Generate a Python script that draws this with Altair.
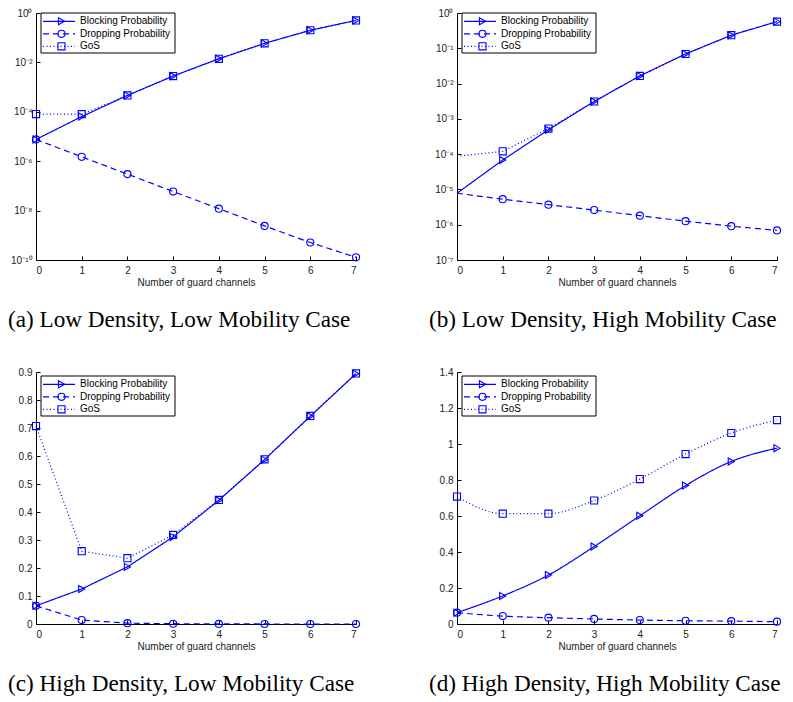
import altair as alt
import pandas as pd

guard = [0, 1, 2, 3, 4, 5, 6, 7]
series = ["Blocking Probability", "Dropping Probability", "GoS"]

# (a) Low Density, Low Mobility
a_block = [7.6e-6, 6.4e-5, 4.6e-4, 2.8e-3, 1.4e-2, 5.9e-2, 0.2, 0.5]
a_drop = [7.6e-6, 1.5e-6, 3.0e-7, 5.9e-8, 1.2e-8, 2.4e-9, 5.1e-10, 1.28e-10]
a_gos = [8.1e-5, 8.0e-5, 4.6e-4, 2.8e-3, 1.4e-2, 5.9e-2, 0.2, 0.5]
# (b) Low Density, High Mobility
b_block = [7.8e-6, 6.8e-5, 4.9e-4, 3.1e-3, 1.65e-2, 6.9e-2, 0.235, 0.57]
b_drop = [7.8e-6, 5.3e-6, 3.7e-6, 2.6e-6, 1.8e-6, 1.26e-6, 9.1e-7, 6.9e-7]
b_gos = [8.7e-5, 1.2e-4, 5.3e-4, 3.1e-3, 1.65e-2, 6.9e-2, 0.235, 0.57]
# (c) High Density, Low Mobility
c_block = [0.065, 0.125, 0.204, 0.311, 0.442, 0.587, 0.742, 0.894]
c_drop = [0.065, 0.014, 0.003, 0.001, 0.0003, 0.0001, 0.00003, 0.00001]
c_gos = [0.707, 0.260, 0.235, 0.318, 0.443, 0.588, 0.743, 0.895]
# (d) High Density, High Mobility
d_block = [0.063, 0.156, 0.272, 0.430, 0.601, 0.769, 0.903, 0.977]
d_drop = [0.063, 0.044, 0.035, 0.028, 0.022, 0.018, 0.016, 0.013]
d_gos = [0.708, 0.613, 0.613, 0.686, 0.805, 0.944, 1.061, 1.133]

a_ticks = [1e-10, 1e-8, 1e-6, 1e-4, 1e-2, 1]
b_ticks = [1e-7, 1e-6, 1e-5, 1e-4, 1e-3, 1e-2, 1e-1, 1]
c_ticks = [0, 0.1, 0.2, 0.3, 0.4, 0.5, 0.6, 0.7, 0.8, 0.9]
d_ticks = [0, 0.2, 0.4, 0.6, 0.8, 1.0, 1.2, 1.4]

captions = [
    "(a) Low Density, Low Mobility Case",
    "(b) Low Density, High Mobility Case",
    "(c) High Density, Low Mobility Case",
    "(d) High Density, High Mobility Case",
]

BLUE = "#0000ff"
FONT = "Liberation Sans"
SERIF = "Liberation Serif"
dash_range = [[1, 0], [6, 4], [1, 2.5]]
shape_range = ["triangle-right", "circle", "square"]

sup = "toString(round(log(datum.value)/LN10))"
for a, b in [("-", "⁻"), ("0", "⁰"), ("1", "¹"), ("2", "²"), ("3", "³"), ("4", "⁴"),
             ("5", "⁵"), ("6", "⁶"), ("7", "⁷"), ("8", "⁸"), ("9", "⁹")]:
    sup = f"replace({sup}, '{a}', '{b}')"
SUP_EXPR = "'10' + " + sup


def make_df(block, drop, gos):
    rows = []
    for name, vals in zip(series, [block, drop, gos]):
        for g, v in zip(guard, vals):
            rows.append({"guard": g, "series": name, "value": v})
    return pd.DataFrame(rows)


def panel(block, drop, gos, log, ydomain, yvalues, height, caption, interp,
          marker_min, legend_top):
    df = make_df(block, drop, gos)
    xs = alt.Scale(domain=[0, 7], nice=False, zero=False)
    if log:
        ys = alt.Scale(type="log", domain=ydomain, nice=False)
        lab = dict(labelExpr=SUP_EXPR)
    else:
        ys = alt.Scale(domain=ydomain, nice=False, zero=True)
        lab = dict(format="~g")
    x_main = alt.X("guard:Q", scale=xs, axis=alt.Axis(
        values=guard, format="d", title="Number of guard channels", ticks=False,
        grid=False, labelPadding=5, titlePadding=2, orient="bottom"))
    y_main = alt.Y("value:Q", scale=ys, axis=alt.Axis(
        values=yvalues, title=None, ticks=False, grid=False, labelPadding=4,
        minExtent=28, maxExtent=28, orient="left", **lab))
    x_tick = alt.X("guard:Q", scale=xs, axis=alt.Axis(
        values=guard, labels=False, domain=False, grid=False, ticks=True,
        tickSize=4, offset=-4, title=None, orient="bottom", minExtent=0, maxExtent=0))
    y_tick = alt.Y("value:Q", scale=ys, axis=alt.Axis(
        values=yvalues, labels=False, domain=False, grid=False, ticks=True,
        tickSize=4, offset=-4, title=None, orient="left", minExtent=0, maxExtent=0))

    lines = alt.Chart(df).mark_line(color=BLUE, strokeWidth=1.2, interpolate=interp).encode(
        x=x_tick, y=y_tick,
        strokeDash=alt.StrokeDash("series:N", scale=alt.Scale(domain=series, range=dash_range), legend=None),
        detail="series:N",
    )
    points = alt.Chart(df).transform_filter(alt.datum.guard >= marker_min).mark_point(
        color=BLUE, filled=False, strokeWidth=1.1, size=50, opacity=1
    ).encode(
        x=x_main, y=y_main,
        shape=alt.Shape("series:N", scale=alt.Scale(domain=series, range=shape_range), legend=None),
    )

    one = pd.DataFrame({"k": [0]})
    layers = [lines, points]
    layers.append(alt.Chart(one).mark_rect(fill="white", stroke="black", strokeWidth=1).encode(
        x=alt.value(5), x2=alt.value(139), y=alt.value(legend_top), y2=alt.value(legend_top + 40)))
    for i, name in enumerate(series):
        yi = legend_top + 8.3 + 12.5 * i
        layers.append(alt.Chart(one).mark_rule(color=BLUE, strokeWidth=1.2, strokeDash=dash_range[i]).encode(
            x=alt.value(7), x2=alt.value(39), y=alt.value(yi)))
        layers.append(alt.Chart(one).mark_point(shape=shape_range[i], color=BLUE, filled=False,
                                                size=50, strokeWidth=1.1, opacity=1).encode(
            x=alt.value(25.5), y=alt.value(yi)))
        layers.append(alt.Chart(pd.DataFrame({"t": [name]})).mark_text(
            align="left", baseline="middle", font=FONT, fontSize=10, color="black").encode(
            x=alt.value(44), y=alt.value(yi), text="t:N"))

    return alt.layer(*layers).resolve_axis(x="independent", y="independent").properties(
        width=320, height=height,
        title=alt.TitleParams(text=caption, orient="bottom", anchor="start", frame="bounds",
                              font=SERIF, fontSize=23.2, fontWeight="normal", color="black",
                              offset=22),
    )


pa = panel(a_block, a_drop, a_gos, True, [1e-10, 1], a_ticks, 247, captions[0], "linear", 0, 0)
pb = panel(b_block, b_drop, b_gos, True, [1e-7, 1], b_ticks, 247, captions[1], "linear", 1, 0)
pc = panel(c_block, c_drop, c_gos, False, [0, 0.9], c_ticks, 252, captions[2], "linear", 0, 4)
pd_ = panel(d_block, d_drop, d_gos, False, [0, 1.4], d_ticks, 252, captions[3], "monotone", 0, 4)

chart = alt.concat(pa, pb, pc, pd_, columns=2, spacing={"row": 35, "column": 67}).properties(
    padding={"left": 0, "top": 0, "right": 0, "bottom": 0}
).configure_view(stroke=None).configure_axis(
    labelFont=FONT, labelFontSize=10, titleFont=FONT, titleFontSize=10,
    titleFontWeight="normal", labelColor="#222", titleColor="#222",
    domainColor="black", tickColor="black", domainWidth=1, tickWidth=1, grid=False,
)

chart.save("out.html", embed_options={"renderer": "svg", "actions": False})
